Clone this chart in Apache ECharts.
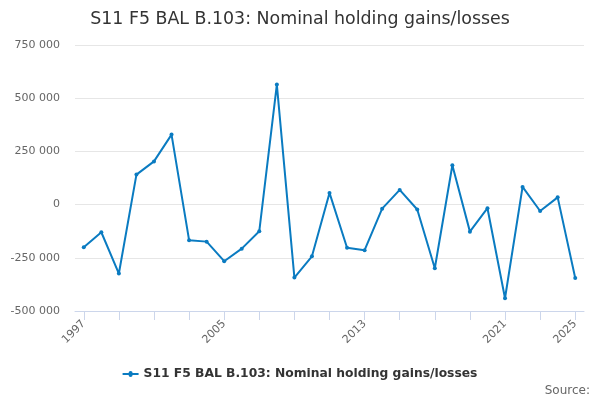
<!DOCTYPE html>
<html>
<head>
<meta charset="utf-8">
<script src="https://cdn.jsdelivr.net/npm/echarts@6/dist/echarts.min.js"></script>
<style>
  html, body { margin: 0; padding: 0; background: #fff; }
  #chart { width: 600px; height: 400px; }
</style>
</head>
<body>
<div id="chart"></div>
<script>
// years on the x axis
const years = [];
for (let y = 1997; y <= 2025; y++) years.push(String(y));

// which years get a label under the axis
const labelYears = ['1997', '2005', '2013', '2021', '2025'];

const seriesName = 'S11 F5 BAL B.103: Nominal holding gains/losses';

// values
const gains = [
  -200000, -130000, -324000, 141000, 203000, 329000, -167000, -174000,
  -266000, -207000, -125000, 564000, -343000, -243000, 55000, -203000,
  -214000, -19000, 69000, -23000, -299000, 185000, -127000, -17000,
  -440000, 83000, -30000, 34000, -345000
];

const yTicks = { min: -500000, max: 750000, step: 250000 };

function fmt(v) {
  return String(v).replace(/\B(?=(\d{3})+(?!\d))/g, ' ');
}

const chart = echarts.init(document.getElementById('chart'));
chart.setOption({
  animation: false,
  textStyle: { fontFamily: 'DejaVu Sans' },
  title: {
    text: 'S11 F5 BAL B.103: Nominal holding gains/losses',
    left: 'center',
    top: 6,
    textStyle: { fontSize: 17.4, fontWeight: 'normal', color: '#333' }
  },
  grid: { left: 75, right: 16, top: 45, bottom: 89 },
  xAxis: {
    type: 'category',
    data: years,
    boundaryGap: true,
    axisLine: { onZero: false, lineStyle: { color: '#ccd6eb' } },
    axisTick: { show: true, alignWithLabel: true, interval: 1, length: 9, lineStyle: { color: '#ccd6eb' } },
    axisLabel: {
      interval: 0,
      rotate: 45,
      color: '#666',
      fontSize: 11,
      margin: 11,
      formatter: v => labelYears.includes(v) ? v : ''
    }
  },
  yAxis: {
    type: 'value',
    min: yTicks.min,
    max: yTicks.max,
    interval: yTicks.step,
    axisLine: { show: false },
    axisTick: { show: false },
    splitLine: { lineStyle: { color: '#e6e6e6' } },
    axisLabel: { color: '#666', fontSize: 11, margin: 15, formatter: fmt }
  },
  legend: {
    bottom: 15,
    left: 'center',
    icon: 'path://M0,4 L6,4 A2,2 0 1 1 10,4 L16,4 L16,6 L10,6 A2,2 0 1 1 6,6 L0,6 Z',
    itemWidth: 16,
    itemHeight: 8,
    textStyle: { fontSize: 12.3, fontWeight: 'bold', color: '#333' },
    data: [seriesName]
  },
  graphic: [{
    type: 'text',
    right: 10,
    bottom: 3,
    style: { text: 'Source:', fill: '#666', fontSize: 12, fontFamily: 'DejaVu Sans' }
  }],
  series: [{
    name: seriesName,
    type: 'line',
    data: gains,
    color: '#0a7bc1',
    symbol: 'circle',
    symbolSize: 4,
    lineStyle: { width: 2 }
  }]
});
</script>
</body>
</html>
